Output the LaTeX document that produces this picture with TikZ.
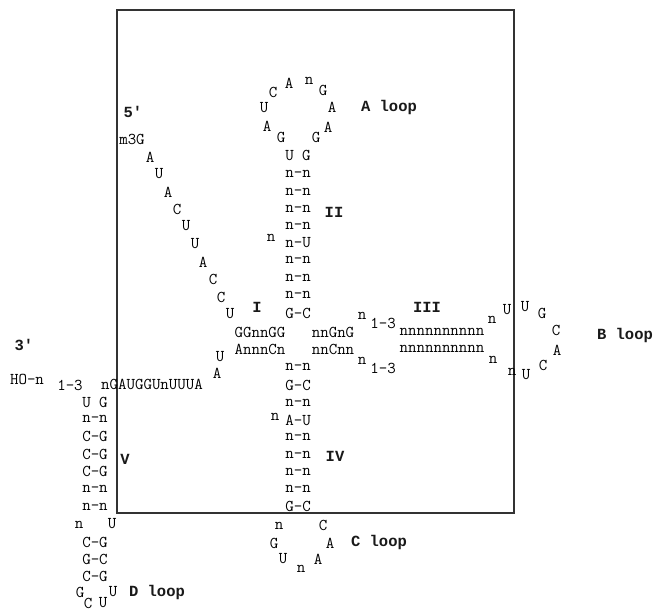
\documentclass[tikz,border=0pt]{standalone}
\usepackage{fontspec}
\newfontfamily\cour{Liberation Mono}
\begin{document}
\begin{tikzpicture}[x=1pt,y=-1pt,
  nt/.style={font=\ttfamily\fontsize{16.5}{17}\selectfont, inner sep=0pt, text=black},
  lab/.style={font=\cour\bfseries\fontsize{15.5}{16}\selectfont, inner sep=0pt, text=black!90},
  frame/.style={line width=1.6pt, draw=black!80}]
\useasboundingbox (0,0) rectangle (657,612);
\draw[frame] (117,10) rectangle (514,513);
% A loop
\foreach \n/\x/\y/\t in {al1/273/92/C, al2/289/83/A, al3/309/81/n, al4/323/90/G, al5/264/108/U,
  al6/332/107/A, al7/267/126/A, al8/281/137/G, al9/316/137/G, al10/328/127/A}
  \node[nt] (\n) at (\x,\y) {\t};
% stem II
\foreach \i/\y/\t in {1/155/U G,2/174/n–n,3/192/n–n,4/209/n–n,5/226/n–n,6/243/n–U,7/260/n–n,8/278/n–n,9/295/n–n,10/313/G–C}
  \node[nt] (ii\i) at (298,\y) {\t};
\node[nt] (iin) at (271,238) {n};
% 5' strand
\node[nt] (m3g) at (132,139) {m3G};
\foreach \n/\x/\y/\t in {f1/150/157/A, f2/159/174/U, f3/168/192/A, f4/177/209/C, f5/186/226/U,
  f6/195/244/U, f7/203/262/A, f8/213/279/C, f9/221/297/C, f10/230/314/U}
  \node[nt] (\n) at (\x,\y) {\t};
% central junction
\node[nt] (c1) at (260,332) {GGnnGG};
\node[nt] (c2) at (260,349) {AnnnCn};
\node[nt] (c3) at (333,332) {nnGnG};
\node[nt] (c4) at (333,349) {nnCnn};
\node[nt] (cu) at (220,357) {U};
\node[nt] (ca) at (217,373) {A};
\node[nt] (n13a) at (362,316) {n};
\node[nt] (n13b) at (383,323) {1–3};
\node[nt] (n13c) at (362,361) {n};
\node[nt] (n13d) at (383,368) {1–3};
% stem III
\node[nt] (iii1) at (442,332) {nnnnnnnnnn};
\node[nt] (iii2) at (442,349) {nnnnnnnnnn};
% B loop
\foreach \n/\x/\y/\t in {bl1/492/320/n, bl2/507/310/U, bl3/525/307/U, bl4/542/313/G, bl5/556/330/C,
  bl6/557/350/A, bl7/543/365/C, bl8/526/375/U, bl9/512/372/n, bl10/493/360/n}
  \node[nt] (\n) at (\x,\y) {\t};
% stem IV
\foreach \i/\y/\t in {1/367/n–n,2/385/G–C,3/403/n–n,4/420/A–U,5/437/n–n,6/455/n–n,7/472/n–n,8/489/n–n,9/506/G–C}
  \node[nt] (iv\i) at (298,\y) {\t};
\node[nt] (ivn) at (275,417) {n};
% C loop
\foreach \n/\x/\y/\t in {cl1/279/526/n, cl2/323/525/C, cl3/274/543/G, cl4/330/543/A, cl5/283/559/U,
  cl6/301/569/n, cl7/318/559/A}
  \node[nt] (\n) at (\x,\y) {\t};
% 3' end
\node[nt] (ho) at (27,379) {HO–n};
\node[nt] (t13) at (70,385) {1–3};
\node[nt] (tstr) at (152,384) {nGAUGGUnUUUA};
% stem V
\foreach \i/\y/\t in {1/402/U G,2/419/n–n,3/436/C–G,4/454/C–G,5/471/C–G,6/489/n–n,7/507/n–n}
  \node[nt] (v\i) at (95,\y) {\t};
\node[nt] (vn) at (79,525) {n};
\node[nt] (vu) at (112,524) {U};
\foreach \i/\y/\t in {8/542/C–G,9/559/G–C,10/576/C–G}
  \node[nt] (v\i) at (95,\y) {\t};
\foreach \n/\x/\y/\t in {dl1/80/592/G, dl2/113/592/U, dl3/88/603/C, dl4/103/603/U}
  \node[nt] (\n) at (\x,\y) {\t};
% labels
\node[lab] (l5) at (133,112) {5'};
\node[lab] (l3) at (24,345) {3'};
\node[lab] (lI) at (257,307) {I};
\node[lab] (lII) at (334,212) {II};
\node[lab] (lIII) at (427,307) {III};
\node[lab] (lIV) at (335,456) {IV};
\node[lab] (lV) at (125,459) {V};
\node[lab] (lA) at (389,107) {A loop};
\node[lab] (lB) at (625,335) {B loop};
\node[lab] (lC) at (379,542) {C loop};
\node[lab] (lD) at (157,592) {D loop};
\end{tikzpicture}
\end{document}
